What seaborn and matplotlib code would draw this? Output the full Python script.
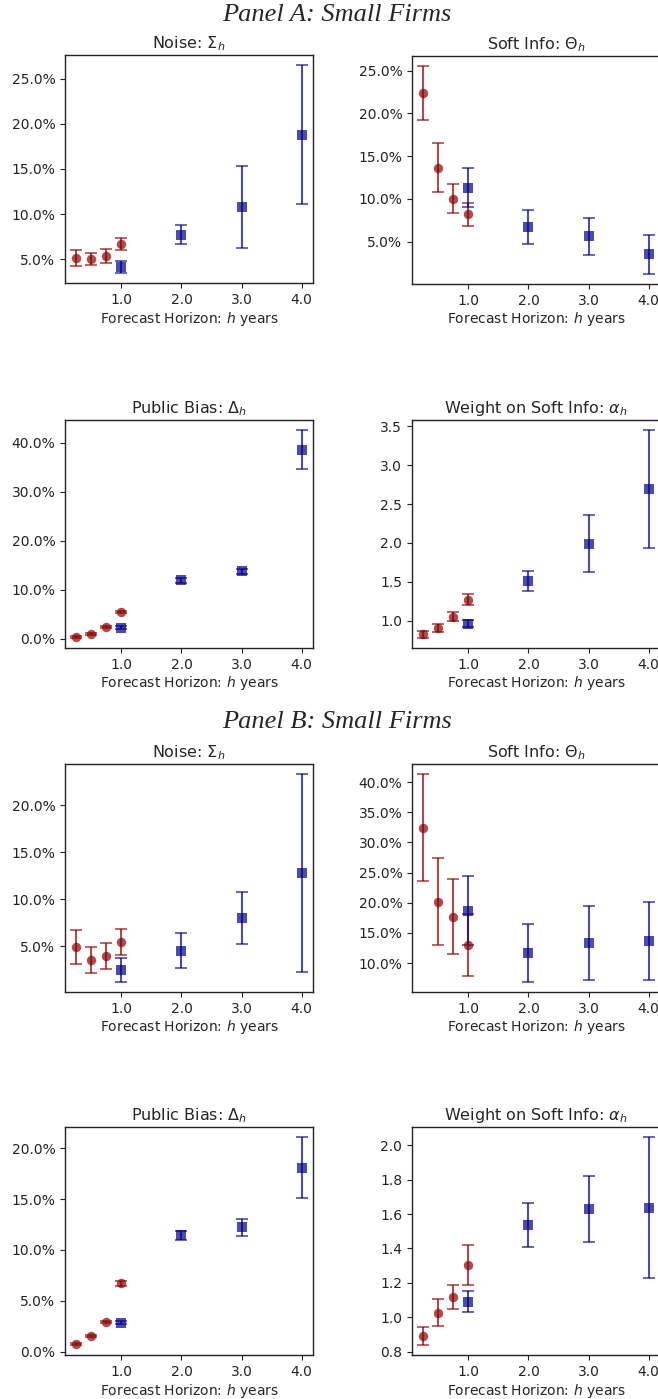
import numpy as np
import pandas as pd
import matplotlib
matplotlib.use("Agg")
import matplotlib.pyplot as plt
from matplotlib.ticker import PercentFormatter, FormatStrFormatter
import seaborn as sns

# ---------------- data ----------------
h_short = [0.25, 0.5, 0.75, 1.0]
h_long = [1.0, 2.0, 3.0, 4.0]

# Panel A
a_noise_s = [0.0510, 0.0500, 0.0537, 0.0670]
a_noise_s_err = [0.0089, 0.0065, 0.0074, 0.0062]
a_noise_l = [0.0419, 0.0774, 0.1077, 0.1879]
a_noise_l_err = [0.0067, 0.0104, 0.0450, 0.0767]

a_soft_s = [0.2238, 0.1367, 0.1004, 0.0820]
a_soft_s_err = [0.0313, 0.0283, 0.0166, 0.0133]
a_soft_l = [0.1129, 0.0676, 0.0563, 0.0352]
a_soft_l_err = [0.0228, 0.0197, 0.0217, 0.0225]

a_bias_s = [0.0034, 0.0095, 0.0238, 0.0551]
a_bias_s_err = [0.0012, 0.0012, 0.0015, 0.0018]
a_bias_l = [0.0224, 0.1190, 0.1374, 0.3857]
a_bias_l_err = [0.0030, 0.0055, 0.0055, 0.0395]

a_wt_s = [0.828, 0.905, 1.056, 1.270]
a_wt_s_err = [0.043, 0.054, 0.056, 0.071]
a_wt_l = [0.966, 1.515, 1.992, 2.690]
a_wt_l_err = [0.047, 0.128, 0.370, 0.756]

# Panel B
b_noise_s = [0.0493, 0.0358, 0.0397, 0.0546]
b_noise_s_err = [0.0177, 0.0137, 0.0140, 0.0138]
b_noise_l = [0.0255, 0.0457, 0.0801, 0.1277]
b_noise_l_err = [0.0128, 0.0190, 0.0273, 0.1050]

b_soft_s = [0.3242, 0.2013, 0.1769, 0.1299]
b_soft_s_err = [0.0886, 0.0722, 0.0618, 0.0520]
b_soft_l = [0.1869, 0.1172, 0.1332, 0.1365]
b_soft_l_err = [0.0570, 0.0481, 0.0617, 0.0640]

b_bias_s = [0.0079, 0.0157, 0.0295, 0.0675]
b_bias_s_err = [0.0008, 0.0008, 0.0010, 0.0025]
b_bias_l = [0.0285, 0.1144, 0.1223, 0.1807]
b_bias_l_err = [0.0015, 0.0046, 0.0082, 0.0298]

b_wt_s = [0.891, 1.027, 1.120, 1.304]
b_wt_s_err = [0.050, 0.080, 0.069, 0.116]
b_wt_l = [1.091, 1.537, 1.630, 1.638]
b_wt_l_err = [0.059, 0.127, 0.190, 0.408]

titles = [r"Noise: $\Sigma_h$", r"Soft Info: $\Theta_h$",
          r"Public Bias: $\Delta_h$", r"Weight on Soft Info: $\alpha_h$"]
panel_titles = ["Panel A: Small Firms", "Panel B: Small Firms"]
xlabel = r"Forecast Horizon: $h$ years"
xticks = [1.0, 2.0, 3.0, 4.0]

panels = [
    [(a_noise_s, a_noise_s_err, a_noise_l, a_noise_l_err, True),
     (a_soft_s, a_soft_s_err, a_soft_l, a_soft_l_err, True),
     (a_bias_s, a_bias_s_err, a_bias_l, a_bias_l_err, True),
     (a_wt_s, a_wt_s_err, a_wt_l, a_wt_l_err, False)],
    [(b_noise_s, b_noise_s_err, b_noise_l, b_noise_l_err, True),
     (b_soft_s, b_soft_s_err, b_soft_l, b_soft_l_err, True),
     (b_bias_s, b_bias_s_err, b_bias_l, b_bias_l_err, True),
     (b_wt_s, b_wt_s_err, b_wt_l, b_wt_l_err, False)],
]

# ---------------- style ----------------
sns.set_style("ticks")
plt.rcParams["font.family"] = ["DejaVu Sans"]
plt.rcParams["axes.edgecolor"] = "#222222"
plt.rcParams["axes.linewidth"] = 1.0

RED = "#8B0000"
BLUE = "#00008B"

W, H = 658, 1399
fig = plt.figure(figsize=(W / 100, H / 100), dpi=100)

col_x = [65, 412]
ax_w = 248
row_tops = [[55, 56], [420, 420], [764, 764], [1127, 1127]]
ax_h = 228


def make_ax(px_left, px_top):
    return fig.add_axes([px_left / W, 1 - (px_top + ax_h) / H, ax_w / W, ax_h / H])


for p, panel in enumerate(panels):
    for k, (ys, ys_e, yl, yl_e, pct) in enumerate(panel):
        r = p * 2 + k // 2
        c = k % 2
        ax = make_ax(col_x[c], row_tops[r][c])
        df_s = pd.DataFrame({"h": h_short, "v": ys, "e": ys_e})
        df_l = pd.DataFrame({"h": h_long, "v": yl, "e": yl_e})
        eb1 = ax.errorbar(df_s["h"], df_s["v"], yerr=df_s["e"], fmt="o", color=RED,
                          ecolor=RED, markersize=6.8, capsize=4,
                          elinewidth=1.5, capthick=1.2, alpha=0.7, zorder=3)
        eb2 = ax.errorbar(df_l["h"], df_l["v"], yerr=df_l["e"], fmt="s", color=BLUE,
                          ecolor=BLUE, markersize=7, capsize=4,
                          elinewidth=1.5, capthick=1.2, alpha=0.7, zorder=3)
        for eb in (eb1, eb2):
            eb[0].set_markeredgewidth(0)
        ax.set_xticks(xticks)
        ax.xaxis.set_major_formatter(FormatStrFormatter("%.1f"))
        if pct:
            ax.yaxis.set_major_formatter(PercentFormatter(xmax=1.0, decimals=1))
        else:
            ax.yaxis.set_major_formatter(FormatStrFormatter("%.1f"))
        ax.tick_params(labelsize=10, length=3.5, width=0.8, colors="#222222")
        ax.set_title(titles[k], fontsize=11.5, pad=5)
        ax.set_xlabel(xlabel, fontsize=10, labelpad=2)
        for s in ax.spines.values():
            s.set_visible(True)

fig.text(0.512, 1 - 15 / H, panel_titles[0], ha="center", va="center",
         fontsize=19, family=["Liberation Serif"], style="italic")
fig.text(0.512, 1 - 722 / H, panel_titles[1], ha="center", va="center",
         fontsize=19, family=["Liberation Serif"], style="italic")

fig.savefig("out.png", dpi=100)
